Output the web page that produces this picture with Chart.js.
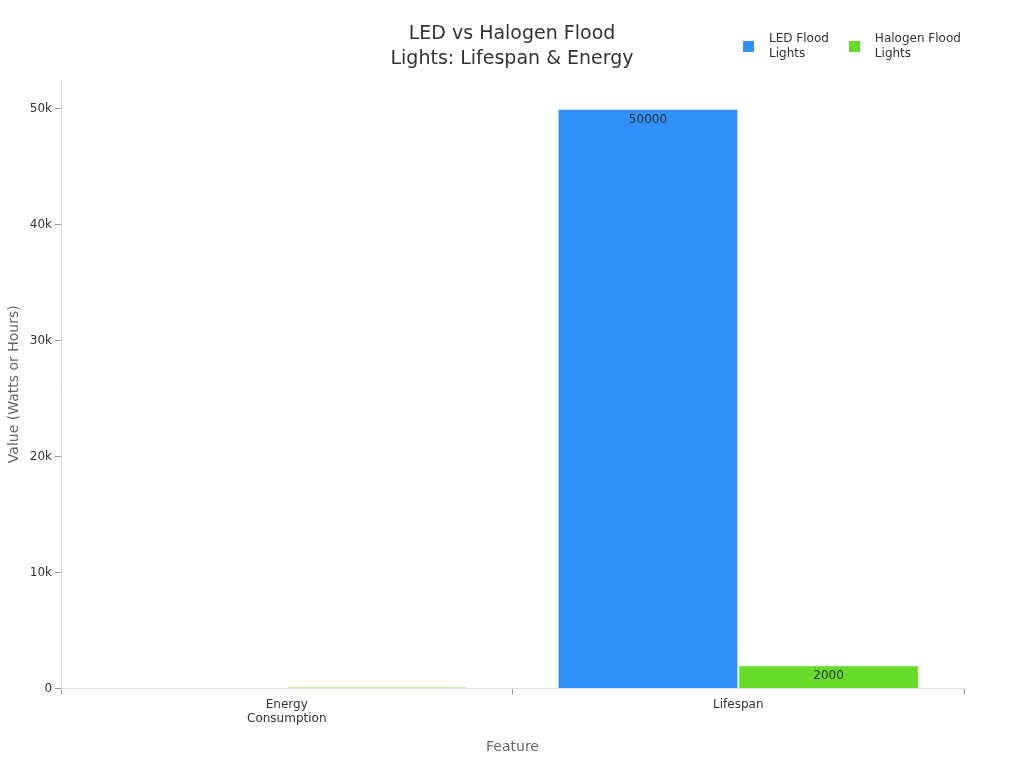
<!DOCTYPE html>
<html>
<head>
<meta charset="utf-8">
<script src="https://cdn.jsdelivr.net/npm/chart.js@4"></script>
<style>
  body { margin: 0; background: #fff; font-family: 'DejaVu Sans', sans-serif; }
  #wrap { width: 1024px; height: 768px; position: relative; }
  #title { position: absolute; left: 0; width: 1024px; top: 20px; text-align: center; color: #333; font-size: 19px; line-height: 25px; }
  #legend { position: absolute; left: 743px; top: 31px; display: flex; color: #333; font-size: 12px; line-height: 15px; }
  .item { display: flex; align-items: center; margin-right: 20px; }
  .sw { width: 11px; height: 11px; margin-right: 15px; }
</style>
</head>
<body>
<div id="wrap">
  <canvas id="c"></canvas>
  <div id="title">LED vs Halogen Flood<br>Lights: Lifespan &amp; Energy</div>
  <div id="legend"></div>
</div>
<script>
// data
const categories = [['Energy', 'Consumption'], 'Lifespan'];
const seriesNames = ['LED Flood<br>Lights', 'Halogen Flood<br>Lights'];
const ledValues = [15, 50000];
const halogenValues = [100, 2000];
const yTicks = [0, 10000, 20000, 30000, 40000, 50000];

const font = "'DejaVu Sans', sans-serif";
const colors = ['#3092f9', '#66db2a'];

// html legend
document.getElementById('legend').innerHTML = seriesNames.map((n, i) =>
  `<div class="item"><div class="sw" style="background:${colors[i]}"></div><div>${n}</div></div>`).join('');

// value labels inside bar tops (skip tiny ones)
const valueLabels = {
  id: 'valueLabels',
  afterDatasetsDraw(chart) {
    const ctx = chart.ctx;
    ctx.save();
    ctx.font = '12px ' + font;
    ctx.fillStyle = '#333';
    ctx.textAlign = 'center';
    ctx.textBaseline = 'top';
    chart.data.datasets.forEach((ds, i) => {
      chart.getDatasetMeta(i).data.forEach((bar, j) => {
        if (ds.data[j] < 1000) return;
        ctx.fillText(String(ds.data[j]), bar.x, bar.y + 5);
      });
    });
    ctx.restore();
  }
};

new Chart(document.getElementById('c'), {
  type: 'bar',
  data: {
    labels: categories,
    datasets: [
      { label: 'LED Flood Lights', data: ledValues, backgroundColor: colors[0], borderColor: '#cfe3fb', borderWidth: 1 },
      { label: 'Halogen Flood Lights', data: halogenValues, backgroundColor: colors[1], borderColor: '#d8f3c8', borderWidth: 1 }
    ]
  },
  options: {
    responsive: true,
    maintainAspectRatio: false,
    animation: false,
    layout: { padding: { left: 2, right: 60, top: 80, bottom: 8 } },
    datasets: { bar: { categoryPercentage: 0.8, barPercentage: 1 } },
    plugins: { legend: { display: false }, tooltip: { enabled: false } },
    scales: {
      x: {
        grid: { color: 'rgba(0,0,0,0)', tickColor: '#999', tickLength: 6 },
        border: { color: '#ddd' },
        ticks: { color: '#333', font: { family: font, size: 12 } },
        title: { display: true, text: 'Feature', color: '#666', font: { family: font, size: 14 }, padding: { top: 10 } }
      },
      y: {
        min: 0,
        max: 52500,
        afterBuildTicks(axis) {
          axis.ticks = yTicks.map(v => ({ value: v }));
        },
        grid: { color: 'rgba(0,0,0,0)', tickColor: '#999', tickLength: 6 },
        border: { color: '#ddd' },
        ticks: {
          color: '#333',
          font: { family: font, size: 12 },
          callback: v => v === 0 ? '0' : (v / 1000) + 'k'
        },
        title: { display: true, text: 'Value (Watts or Hours)', color: '#666', font: { family: font, size: 14 } }
      }
    }
  },
  plugins: [valueLabels]
});
</script>
</body>
</html>
